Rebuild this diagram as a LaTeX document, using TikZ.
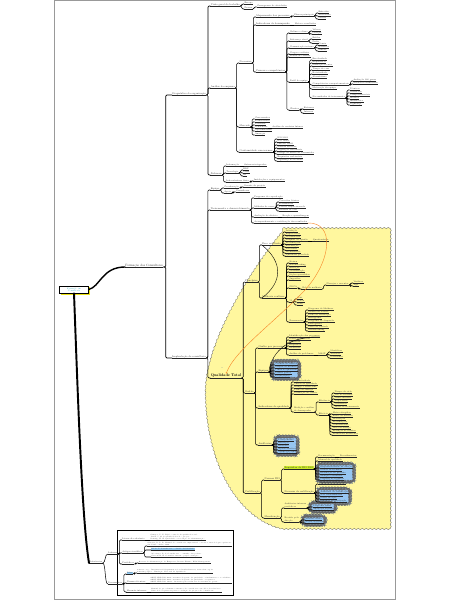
\documentclass[tikz,border=0pt]{standalone}
\usepackage{amsmath}
\usepackage{tikz}
\usetikzlibrary{decorations.pathmorphing,shadows,fit,backgrounds}

\definecolor{zone}{RGB}{255,247,158}
\definecolor{cloudblue}{RGB}{150,198,242}
\definecolor{relorange}{RGB}{247,135,40}
\definecolor{rootteal}{RGB}{20,160,180}
\definecolor{rootshadow}{RGB}{235,225,20}
\definecolor{marker}{RGB}{205,235,40}
\definecolor{pickblue}{RGB}{150,205,245}

\tikzset{
  pageframe/.style={draw=black!40,line width=1.2pt},
  uline/.style={draw=black!85,line width=0.9pt},
  topic/.style={anchor=south west,inner xsep=0.4mm,inner ysep=0.3mm,text=black!80,
    font=\fontsize{7}{7.5}\selectfont,
    append after command={(\tikzlastnode.south west) edge[uline] (\tikzlastnode.south east)}},
  leaf/.style={topic,font=\fontsize{6}{6.5}\selectfont},
  note/.style={topic,align=left,font=\fontsize{4.5}{5.2}\selectfont},
  main/.style={topic,font=\fontsize{9}{10}\selectfont},
  hub/.style={topic,text=black,font=\fontsize{11}{12}\selectfont\bfseries},
  root/.style={draw=black,line width=0.8pt,fill=white,text=rootteal,align=center,
    font=\fontsize{5.5}{6}\selectfont,minimum width=29mm,minimum height=7.5mm,inner sep=0.4mm,
    drop shadow={fill=rootshadow,opacity=1,shadow xshift=1.2mm,shadow yshift=-1.6mm}},
  link/.style={draw=black,line width=1.5pt,rounded corners=1.2mm},
  trunk/.style={draw=black,line width=4pt,line cap=round},
  rel/.style={draw=relorange,line width=1.2pt,->,>=stealth},
  relb/.style={draw=black,line width=1.1pt},
  zonefill/.style={fill=zone,draw=black!65,line width=0.7pt,decorate,
    decoration={snake,amplitude=0.5mm,segment length=4mm}},
  cloudbox/.style={fill=cloudblue,draw=black!60,line width=0.5pt,rounded corners=3mm,inner sep=1.8mm,
    decorate,decoration={snake,amplitude=0.35mm,segment length=3mm}},
  hilite/.style={fill=marker},
  picked/.style={fill=pickblue},
  refbox/.style={draw=black,line width=0.9pt,fill=white},
}

\begin{document}
\begin{tikzpicture}[x=1mm,y=-1mm]
	\useasboundingbox (0,0) rectangle (450,600);
	\draw[pageframe] (54,0.6) rectangle (395,599.4);
	\draw[refbox] (117,530) rectangle (233,595);

	% root and first branch
	\node[root] (r) at (74,289.5) {Formação em\\Consultoria};
	\node[main] (f) at (125,267) {Formação dos Consultores};
	\draw[trunk] (r.east) .. controls (100,287) and (102,267) .. (f.south west);

	\node[topic] (b1) at (172,95) {Diagnóstico da organização};
	\node[topic] (b2) at (172,358) {Implantação da consultoria};
	\foreach \c in {b1,b2} \draw[link,line width=2pt] (f.south east) -- ++(2.5,0) |- (\c.south west);

	% diagnostico
	\node[topic] (a1) at ([shift={(4,-89)}]b1.south east) {Visão geral do trabalho};
	\node[topic] (a2) at ([shift={(4,-7)}]b1.south east) {Análise da empresa};
	\node[topic] (a3) at ([shift={(4,80)}]b1.south east) {Sistemas};
	\foreach \c in {a1,a2,a3} \draw[link,line width=1.8pt] (b1.south east) -- ++(1.5,0) |- (\c.south west);

	\node[leaf] (a11) at ([shift={(4,-2)}]a1.south east) {Escopo};
	\node[leaf] (a12) at ([shift={(4,3)}]a1.south east) {Prazos};
	\node[leaf] (a121) at ([shift={(4,-2)}]a12.south east) {Cronograma de atividades};
	\foreach \c in {a11,a12} \draw[link] (a1.south east) -- ++(1.5,0) |- (\c.south west);
	\draw[link] (a12.south east) -- ++(1.5,0) |- (a121.south west);

	\node[topic] (a21) at ([shift={(4,-25)}]a2.south east) {Processos};
	\node[topic] (a22) at ([shift={(4,39)}]a2.south east) {Mercado};
	\node[topic] (a23) at ([shift={(4,64)}]a2.south east) {Conformidade com normas};
	\foreach \c in {a21,a22,a23} \draw[link] (a2.south east) -- ++(1.5,0) |- (\c.south west);

	\node[topic] (a211) at ([shift={(4,-46)}]a21.south east) {Mapeamento dos processos};
	\node[topic] (a212) at ([shift={(4,-38)}]a21.south east) {Indicadores de desempenho};
	\node[topic] (a213) at ([shift={(4,9)}]a21.south east) {Pessoas e competências};
	\foreach \c in {a211,a212,a213} \draw[link] (a21.south east) -- ++(1.5,0) |- (\c.south west);
	\node[leaf] (a2111) at ([shift={(4,-1)}]a211.south east) {Fluxos principais};
	\draw[link] (a211.south east) -- ++(1.5,0) |- (a2111.south west);
	\foreach \t [count=\i] in {Entradas,Atividades,Saídas} {
		\node[leaf] (a2111-\i) at ([shift={(4,3*\i-6)}]a2111.south east) {\t};
		\draw[link] (a2111.south east) -- ++(1.5,0) |- (a2111-\i.south west);
	}
	\node[leaf] (a2121) at ([shift={(4,0)}]a212.south east) {Metas e resultados};
	\draw[link] (a212.south east) -- (a2121.south west);

	\foreach \t/\d [count=\i] in {Cultura e clima/-39,Liderança atual/-31,Comunicação interna/-24,Cargos e salários/-18,Planos de carreira/-15,Perfil da equipe/10,Clientes/38} {
		\node[leaf] (p\i) at ([shift={(4,\d)}]a213.south east) {\t};
		\draw[link] (a213.south east) -- ++(1.5,0) |- (p\i.south west);
	}
	\foreach \s/\t/\d in {1/Valores/-2,1/Crenças/1,2/Estilos/-2,2/Perfis/2,3/Canais/-3,3/Reuniões/0,3/Murais/3,7/Externos/-1,7/Internos/3} {
		\node[leaf] (x) at ([shift={(4,\d)}]p\s.south east) {\t};
		\draw[link] (p\s.south east) -- ++(1.5,0) |- (x.south west);
	}
	\foreach \t/\d [count=\i] in {Escolaridade/-22,Experiência/-19,Formação técnica/-16,Tempo de casa/-12,Rotatividade/-8,Absenteísmo/-4,Competências comportamentais/3,Motivação da equipe/7,Necessidades de treinamento/16} {
		\node[leaf] (p6-\i) at ([shift={(4,\d)}]p6.south east) {\t};
		\draw[link] (p6.south east) -- ++(1.5,0) |- (p6-\i.south west);
	}
	\foreach \t/\d in {Avaliação 360 graus/-4,Feedback estruturado/-1} {
		\node[leaf] (x) at ([shift={(4,\d)}]p6-7.south east) {\t};
		\draw[link] (p6-7.south east) -- ++(1.5,0) |- (x.south west);
	}
	\foreach \t [count=\i] in {Técnicas,Gerenciais,Comportamentais,Idiomas,Informática,Segurança} {
		\node[leaf] (x) at ([shift={(4,3*\i-11)}]p6-9.south east) {\t};
		\draw[link] (p6-9.south east) -- ++(1.5,0) |- (x.south west);
	}

	\foreach \t/\d [count=\i] in {Concorrentes/-8,Fornecedores/-5,Parceiros/-2,Tendências/1,Oportunidades/4,Ameaças/8} {
		\node[leaf] (m\i) at ([shift={(4,\d)}]a22.south east) {\t};
		\draw[link] (a22.south east) -- ++(1.5,0) |- (m\i.south west);
	}
	\node[leaf] (m41) at ([shift={(4,0)}]m4.south east) {Análise de cenários futuros};
	\draw[link] (m4.south east) -- (m41.south west);
	\foreach \t/\d in {ISO 9001/-13,ISO 14001/-10,OHSAS 18001/-7,Normas setoriais/-4,Legislação trabalhista/-1,Código de defesa do consumidor/2,Requisitos ambientais/6,Segurança do trabalho/9} {
		\node[leaf] (x) at ([shift={(4,\d)}]a23.south east) {\t};
		\draw[link] (a23.south east) -- ++(1.5,0) |- (x.south west);
	}

	\node[leaf] (a31) at ([shift={(4,-9)}]a3.south east) {Informação};
	\node[leaf] (a32) at ([shift={(4,-2)}]a3.south east) {Tecnologia};
	\node[leaf] (a33) at ([shift={(4,7)}]a3.south east) {Infraestrutura física};
	\foreach \c in {a31,a32,a33} \draw[link] (a3.south east) -- ++(1.5,0) |- (\c.south west);
	\node[leaf] (a311) at ([shift={(4,0)}]a31.south east) {Sistemas integrados};
	\draw[link] (a31.south east) -- (a311.south west);
	\foreach \t/\d in {ERP/-3,CRM/0,BI/3} {
		\node[leaf] (x) at ([shift={(4,\d)}]a32.south east) {\t};
		\draw[link] (a32.south east) -- ++(1.5,0) |- (x.south west);
	}
	\node[leaf] (a331) at ([shift={(4,-1)}]a33.south east) {Instalações e equipamentos};
	\draw[link] (a33.south east) -- ++(1.5,0) |- (a331.south west);

	% implantacao
	\node[topic] (c1) at ([shift={(4,-168)}]b2.south east) {Equipe};
	\node[topic] (c2) at ([shift={(4,-148)}]b2.south east) {Treinamento e desenvolvimento};
	\node[hub] (qt) at ([shift={(4,20)}]b2.south east) {Qualidade Total};
	\foreach \c in {c1,c2,qt} \draw[link,line width=1.8pt] (b2.south east) -- ++(1.5,0) |- (\c.south west);

	\node[leaf] (c11) at ([shift={(4,-2)}]c1.south east) {Coordenação};
	\node[leaf] (c12) at ([shift={(4,3)}]c1.south east) {Apoio};
	\foreach \c in {c11,c12} \draw[link] (c1.south east) -- ++(1.5,0) |- (\c.south west);
	\node[leaf] (c111) at ([shift={(4,-1)}]c11.south east) {Gerente do projeto};
	\node[leaf] (c121) at ([shift={(4,-1)}]c12.south east) {Consultores};
	\draw[link] (c11.south east) -- ++(1.5,0) |- (c111.south west);
	\draw[link] (c12.south east) -- ++(1.5,0) |- (c121.south west);

	\node[leaf] (c21) at ([shift={(4,-12)}]c2.south east) {Programa de capacitação};
	\node[leaf] (c22) at ([shift={(4,-2)}]c2.south east) {Módulos do curso};
	\node[leaf] (c23) at ([shift={(4,7)}]c2.south east) {Avaliação de eficácia};
	\node[leaf] (c24) at ([shift={(4,13)}]c2.south east) {Acompanhamento e certificação dos resultados};
	\foreach \c in {c21,c22,c23,c24} \draw[link] (c2.south east) -- ++(1.5,0) |- (\c.south west);
	\foreach \t [count=\i] in {Conceitos básicos,Ferramentas,Prática supervisionada,Estudos de caso} {
		\node[leaf] (x) at ([shift={(4,3*\i-9)}]c22.south east) {\t};
		\draw[link] (c22.south east) -- ++(1.5,0) |- (x.south west);
	}
	\node[leaf] (c231) at ([shift={(4,0)}]c23.south east) {Reação e aprendizagem};
	\draw[link] (c23.south east) -- (c231.south west);

	% qualidade total
	\node[font=\fontsize{4}{4}\selectfont\bfseries,text=cloudblue!60!black] (qi) at ([shift={(-4,-6)}]qt.north) {!?};
	\node[topic] (q1) at ([shift={(3,-96)}]qt.south east) {Princípios};
	\node[topic] (q2) at ([shift={(3,15)}]qt.south east) {Gestão};
	\node[topic] (q3) at ([shift={(3,115)}]qt.south east) {Certificação};
	\foreach \c in {q1,q2,q3} \draw[link,line width=1.8pt] (qt.south east) -- ++(1.5,0) |- (\c.south west);

	\node[topic] (q11) at ([shift={(4,-37)}]q1.south east) {Foco no cliente};
	\node[topic] (q12) at ([shift={(4,16)}]q1.south east) {Melhoria contínua};
	\foreach \c in {q11,q12} \draw[link] (q1.south east) -- ++(1.5,0) |- (\c.south west);
	\foreach \t [count=\i] in {Satisfação,Expectativas,Necessidades,Pesquisa de opinião,Reclamações,Fidelização,Pós-venda,Atendimento,Qualidade percebida} {
		\node[leaf] (q11-\i) at ([shift={(4,3*\i-16)}]q11.south east) {\t};
		\draw[link] (q11.south east) -- ++(1.5,0) |- (q11-\i.south west);
	}
	\node[leaf] (q114) at ([shift={(4,0)}]q11-4.south east) {Questionários};
	\draw[link] (q11-4.south east) -- (q114.south west);
	\draw[relb] (q11.south west) .. controls (283,262) and (283,282) .. (q12.south west);

	\foreach \t/\d [count=\i] in {Kaizen/-35,Benchmarking/-32,Inovação/-29,Padronização/-26,Lições aprendidas/-22,Sugestões/-18,PDCA/-10,5S/4,Ferramentas/24} {
		\node[leaf] (q12-\i) at ([shift={(4,\d)}]q12.south east) {\t};
		\draw[link] (q12.south east) -- ++(1.5,0) |- (q12-\i.south west);
	}
	\node[leaf] (pd1) at ([shift={(4,1)}]q12-7.south east) {Ciclo de melhoria};
	\node[leaf] (pd2) at ([shift={(4,-4)}]pd1.south east) {Planejar e executar};
	\draw[link] (q12-7.south east) -- ++(1.5,0) |- (pd1.south west);
	\draw[link] (pd1.south east) -- ++(1.5,0) |- (pd2.south west);
	\foreach \t/\d in {Verificar/-2,Agir/1} {
		\node[leaf] (x) at ([shift={(4,\d)}]pd2.south east) {\t};
		\draw[link] (pd2.south east) -- ++(1.5,0) |- (x.south west);
	}
	\foreach \t/\d in {Seiri/-3,Seiton/0,Seiso/3} {
		\node[leaf] (x) at ([shift={(4,\d)}]q12-8.south east) {\t};
		\draw[link] (q12-8.south east) -- ++(1.5,0) |- (x.south west);
	}
	\foreach \t [count=\i] in {Diagrama de Ishikawa,Gráfico de Pareto,Folha de verificação,Histograma,Diagrama de dispersão,Fluxograma,Carta de controle,Brainstorming} {
		\node[leaf] (x) at ([shift={(4,3*\i-15)}]q12-9.south east) {\t};
		\draw[link] (q12-9.south east) -- ++(1.5,0) |- (x.south west);
	}

	\node[topic] (q21) at ([shift={(4,-45)}]q2.south east) {Gestão por processos};
	\node[topic] (q22) at ([shift={(4,-21)}]q2.south east) {Equipes};
	\node[topic] (q23) at ([shift={(4,15)}]q2.south east) {Indicadores da qualidade};
	\node[topic] (q24) at ([shift={(4,52)}]q2.south east) {Auditorias};
	\foreach \c in {q21,q22,q23,q24} \draw[link] (q2.south east) -- ++(1.5,0) |- (\c.south west);
	\foreach \t/\d [count=\i] in {Identificação dos processos/-11,Donos de processo/-8,Interfaces/-5,Requisitos/-2,Melhorias/1,Análise de problemas/7} {
		\node[leaf] (q21-\i) at ([shift={(4,\d)}]q21.south east) {\t};
		\draw[link] (q21.south east) -- ++(1.5,0) |- (q21-\i.south west);
	}
	\node[leaf] (ms) at ([shift={(4,0)}]q21-6.south east) {MASP};
	\draw[link] (q21-6.south east) -- (ms.south west);
	\foreach \t/\d in {Identificar/-3,Analisar/0,Padronizar/3} {
		\node[leaf] (x) at ([shift={(4,\d)}]ms.south east) {\t};
		\draw[link] (ms.south east) -- ++(1.5,0) |- (x.south west);
	}
	\foreach \t [count=\i] in {Círculos de controle,Grupos de melhoria,Times da qualidade,Comitê gestor,Facilitadores} {
		\node[leaf] (q22-\i) at ([shift={(6,3*\i-10)}]q22.south east) {\t};
		\draw[link] (q22.south east) -- ++(1.5,0) |- (q22-\i.south west);
	}
	\draw[relb] (q22.south east) .. controls (272,350) and (290,336) .. (q21-1.south east);

	\foreach \t [count=\i] in {Produtividade,Custos da qualidade,Refugo e retrabalho,Prazo de entrega,Satisfação do cliente} {
		\node[leaf] (x) at ([shift={(4,3*\i-29)}]q23.south east) {\t};
		\draw[link] (q23.south east) -- ++(1.5,0) |- (x.south west);
	}
	\node[leaf,align=left] (q236) at ([shift={(4,4)}]q23.south east) {Medição e análise\\de desempenho};
	\draw[link] (q23.south east) -- ++(1.5,0) |- (q236.south west);
	\node[leaf] (ef1) at ([shift={(4,-10)}]q236.south east) {Eficiência};
	\node[leaf] (ef2) at ([shift={(4,3)}]q236.south east) {Eficácia};
	\foreach \c in {ef1,ef2} \draw[link] (q236.south east) -- ++(1.5,0) |- (\c.south west);
	\foreach \t [count=\i] in {Tempo de ciclo,Uso de recursos,Custo unitário,Capacidade,Ociosidade,Horas de treinamento} {
		\node[leaf] (x) at ([shift={(4,3*\i-12)}]ef1.south east) {\t};
		\draw[link] (ef1.south east) -- ++(1.5,0) |- (x.south west);
	}
	\foreach \t [count=\i] in {Metas atingidas,Índice de defeitos,Devoluções,Reclamações,Conformidade,Nível de serviço,Retenção de clientes,Resultados financeiros} {
		\node[leaf] (x) at ([shift={(4,3*\i-4)}]ef2.south east) {\t};
		\draw[link] (ef2.south east) -- ++(1.5,0) |- (x.south west);
	}
	\foreach \t [count=\i] in {Planejamento,Execução,Relatório,Ações corretivas,Verificação final} {
		\node[leaf] (q24-\i) at ([shift={(6,3*\i-7)}]q24.south east) {\t};
		\draw[link] (q24.south east) -- ++(1.5,0) |- (q24-\i.south west);
	}

	\node[topic] (q31) at ([shift={(4,-13)}]q3.south east) {Normas ISO};
	\node[topic] (q32) at ([shift={(4,25)}]q3.south east) {Manutenção};
	\foreach \c in {q31,q32} \draw[link] (q3.south east) -- ++(1.5,0) |- (\c.south west);
	\node[topic,hilite] (q311) at ([shift={(4,-11)}]q31.south east) {Requisitos da ISO 9001};
	\node[topic] (q312) at ([shift={(4,13)}]q31.south east) {Processo de certificação};
	\foreach \c in {q311,q312} \draw[link] (q31.south east) -- ++(1.5,0) |- (\c.south west);
	\node[leaf] (dc) at ([shift={(4,-12)}]q311.south east) {Documentação};
	\node[leaf] (mq) at ([shift={(4,-8)}]q311.south east) {Manual da qualidade};
	\foreach \c in {dc,mq} \draw[link] (q311.south east) -- ++(1.5,0) |- (\c.south west);
	\node[leaf] (dc1) at ([shift={(4,0)}]dc.south east) {Procedimentos};
	\draw[link] (dc.south east) -- (dc1.south west);
	\foreach \t [count=\i] in {Responsabilidade da direção,Gestão de recursos,Realização do produto,Medição e melhoria,Controle de registros} {
		\node[leaf] (q311-\i) at ([shift={(6,3*\i-4)}]q311.south east) {\t};
		\draw[link] (q311.south east) -- ++(1.5,0) |- (q311-\i.south west);
	}
	\node[leaf,align=left] (oc) at ([shift={(4,-9)}]q312.south east) {Escolha do organismo\\certificador credenciado};
	\draw[link] (q312.south east) -- ++(1.5,0) |- (oc.south west);
	\foreach \t [count=\i] in {Auditoria de certificação,Não conformidades,Plano de ação,Emissão do certificado} {
		\node[leaf] (q312-\i) at ([shift={(6,3*\i-3)}]q312.south east) {\t};
		\draw[link] (q312.south east) -- ++(1.5,0) |- (q312-\i.south west);
	}
	\node[leaf,align=left] (q321) at ([shift={(4,-10)}]q32.south east) {Auditorias internas\\periódicas};
	\node[leaf,align=left] (q322) at ([shift={(4,4)}]q32.south east) {Revisão pela\\direção};
	\foreach \c in {q321,q322} \draw[link] (q32.south east) -- ++(1.5,0) |- (\c.south west);
	\foreach \t [count=\i] in {Programa anual,Auditores internos} {
		\node[leaf] (q321-\i) at ([shift={(6,3*\i-4)}]q321.south east) {\t};
		\draw[link] (q321.south east) -- ++(1.5,0) |- (q321-\i.south west);
	}
	\foreach \t [count=\i] in {Análise crítica,Novos objetivos} {
		\node[leaf] (q322-\i) at ([shift={(6,3*\i-5)}]q322.south east) {\t};
		\draw[link] (q322.south east) -- ++(1.5,0) |- (q322-\i.south west);
	}

	% relacao
	\draw[rel] (c24.south east) .. controls (335,222) and (332,260) .. (305,290) .. controls (275,322) and (235,350) .. (qt.north);

	% referencias
	\node[leaf] (k) at (89,563) {Referências};
	\draw[trunk,line width=5.5pt] (r.south) .. controls (78,400) and (82,520) .. (k.south west);
	\node[leaf] (u) at ([shift={(5,-9)}]k.south east) {Leituras};
	\node[leaf] (d) at ([shift={(5,21)}]k.south east) {Documentos};
	\draw[link] (k.south east) .. controls +(3,0) and +(-3,0) .. (u.south west);
	\draw[link] (k.south east) .. controls +(3,0) and +(-3,0) .. (d.south west);
	\node[leaf] (u1) at ([shift={(4,-14)}]u.south east) {Livros de referência};
	\node[leaf] (u2) at ([shift={(4,-1)}]u.south east) {Artigos científicos};
	\node[leaf] (u3) at ([shift={(4,10)}]u.south east) {Periódicos};
	\foreach \c in {u1,u2,u3} \draw[link] (u.south east) -- ++(1.5,0) |- (\c.south west);
	\node[leaf,picked] (d1) at ([shift={(4,-10)}]d.south east) {Sites};
	\node[leaf] (d2) at ([shift={(4,-1)}]d.south east) {Normas técnicas};
	\node[leaf] (d3) at ([shift={(4,8)}]d.south east) {Manuais internos};
	\foreach \c in {d1,d2,d3} \draw[link] (d.south east) -- ++(1.5,0) |- (\c.south west);

	\node[note] (n1) at ([shift={(5,0)}]u1.south east) {Campos, V. F. TQC: controle da qualidade total.\\Juran, J. M. A qualidade desde o projeto.\\Deming, W. E. Qualidade: a revolução da administração.};
	\node[note] (n2) at ([shift={(4,-7)}]u2.south east) {Oliveira, D. P. R. Manual de consultoria empresarial: conceitos, metodologia e práticas.\\São Paulo: Atlas, 2006.};
	\node[note,picked] (n3) at ([shift={(8,-3)}]u2.south east) {Block, P. Consultoria: o desafio da liberdade.};
	\node[note] (n4) at ([shift={(8,4)}]u2.south east) {Mocsányi, D. C. Consultoria: o caminho das pedras.\\Crescitelli, E. Consultor interno: papel e atuação.};
	\draw[link] (u1.south east) -- (n1.south west);
	\foreach \c in {n2,n3,n4} \draw[link] (u2.south east) -- ++(1.5,0) |- (\c.south west);
	\node[note] (n5) at ([shift={(4,-1)}]u3.south east) {Revista de Administração de Empresas; Revista Exame; HSM Management.};
	\draw[link] (u3.south east) -- ++(1.5,0) |- (n5.south west);
	\node[note] (n6) at ([shift={(4,-1)}]d1.south east) {www.iso.org -- International Organization for Standardization; www.abnt.org.br\\www.fnq.org.br -- Fundação Nacional da Qualidade.};
	\node[note] (n7) at ([shift={(4,0)}]d2.south east) {ABNT NBR ISO 9000: sistemas de gestão da qualidade -- fundamentos e vocabulário.\\ABNT NBR ISO 9001: sistemas de gestão da qualidade -- requisitos.\\ABNT NBR ISO 19011: diretrizes para auditoria de sistemas de gestão.};
	\node[note] (n8) at ([shift={(4,0)}]d3.south east) {Manual de procedimentos internos da consultoria e modelos de relatórios.\\Guia de boas práticas para a condução de projetos de consultoria.};
	\draw[link] (d1.south east) -- ++(1.5,0) |- (n6.south west);
	\draw[link] (d2.south east) -- (n7.south west);
	\draw[link] (d3.south east) -- (n8.south west);

	% zona e nuvens
	\begin{scope}[on background layer]
		\path[zonefill] (283,228) -- (390,228) -- (390,527) -- (282,527) .. controls (238,517) and (205,462) .. (205,388) .. controls (206,338) and (252,265) .. cycle;
		\node[cloudbox,fit=(q22-1)(q22-5)] {};
		\node[cloudbox,fit=(q24-1)(q24-5)] {};
		\node[cloudbox,fit=(q311-1)(q311-5)] {};
		\node[cloudbox,fit=(q312-1)(q312-4)] {};
		\node[cloudbox,fit=(q321-1)(q321-2)] {};
		\node[cloudbox,fit=(q322-1)(q322-2)] {};
	\end{scope}
\end{tikzpicture}
\end{document}
